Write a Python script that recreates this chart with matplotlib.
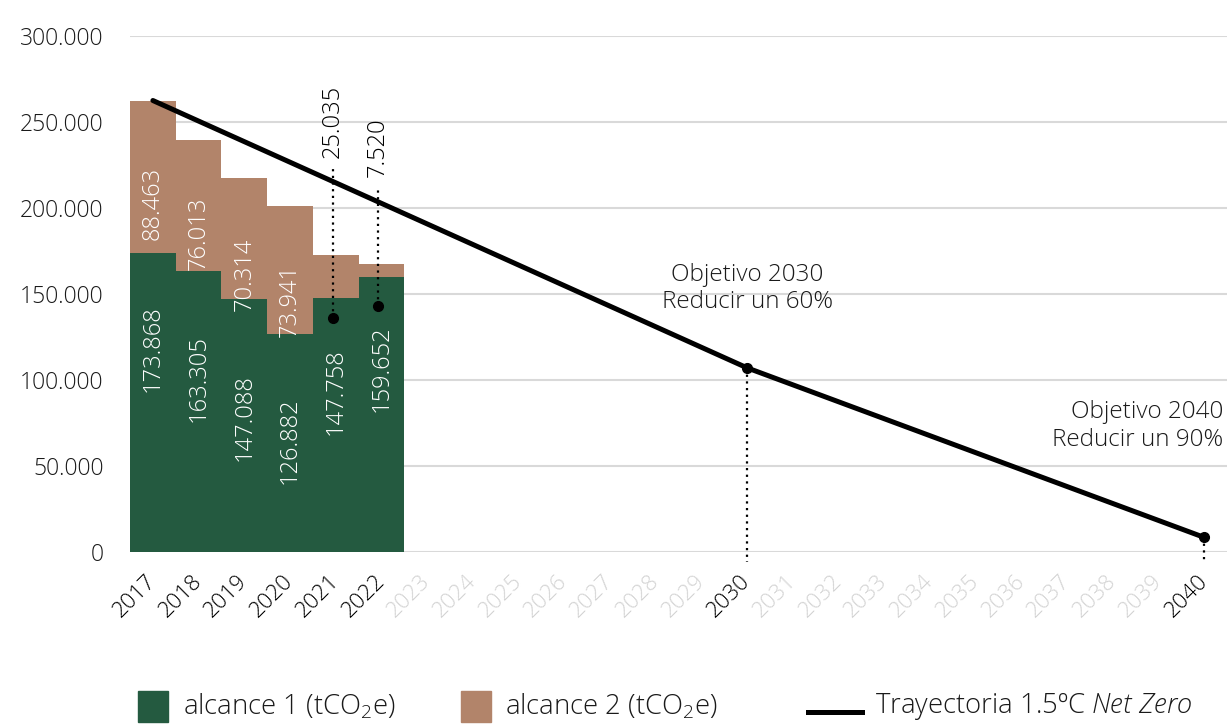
import matplotlib
matplotlib.use('Agg')
import matplotlib.pyplot as plt
from matplotlib.patches import Rectangle
from matplotlib.lines import Line2D

plt.rcParams['font.family'] = ['Open Sans', 'DejaVu Sans']
plt.rcParams['font.weight'] = 'light'
plt.rcParams['mathtext.fontset'] = 'custom'
plt.rcParams['mathtext.rm'] = 'Open Sans:light'
plt.rcParams['mathtext.it'] = 'Open Sans:italic:light'

# datos
years = ['2017', '2018', '2019', '2020', '2021', '2022', '2023', '2024',
         '2025', '2026', '2027', '2028', '2029', '2030', '2031', '2032',
         '2033', '2034', '2035', '2036', '2037', '2038', '2039', '2040']
bar_years = ['2017', '2018', '2019', '2020', '2021', '2022']
alcance1 = [173868, 163305, 147088, 126882, 147758, 159652]
alcance2 = [88463, 76013, 70314, 73941, 25035, 7520]
tray_years = ['2017', '2030', '2040']
tray_vals = [262331, 107000, 8500]
dark_years = ['2017', '2018', '2019', '2020', '2021', '2022', '2030', '2040']

GREEN = '#245a40'
BROWN = '#b2846a'
GRID = '#d9d9d9'
TXT = '#1a1a1a'

def fmt(v):
    return f'{v:,}'.replace(',', '.')

fig = plt.figure(figsize=(12.29, 7.25), dpi=100)
ax = fig.add_axes([0.1058, 0.2386, 0.8926, 0.7122])

xb = [years.index(y) for y in bar_years]
ax.bar(xb, alcance1, width=1.0, color=GREEN, linewidth=0)
ax.bar(xb, alcance2, width=1.0, bottom=alcance1, color=BROWN, linewidth=0)

# etiquetas dentro de las barras (posicion vertical del texto)
lab_y1 = [118000, 101000, 78400, 64500, 93000, 106300]
lab_y2 = [202800, 185400, 161500, 146400]
for i, x in enumerate(xb):
    ax.text(x, lab_y1[i], fmt(alcance1[i]), rotation=90, ha='center', va='center',
            color='white', fontsize=17)
for i in range(len(lab_y2)):
    ax.text(xb[i], lab_y2[i], fmt(alcance2[i]), rotation=90, ha='center', va='center',
            color='white', fontsize=17)

# etiquetas de alcance 2 fuera de la barra (2021, 2022)
dot_y = [136000, 143000]
line_top = [225000, 212000]
text_y = [229000, 218000]
for k, i in enumerate([4, 5]):
    x = xb[i] - 0.07
    ax.plot([x, x], [dot_y[k], line_top[k]], color='black', lw=1.6, ls=(0, (1, 2)))
    ax.plot(x, dot_y[k], 'o', color='black', ms=7)
    ax.text(x, text_y[k], fmt(alcance2[i]), rotation=90, ha='center', va='bottom',
            color='black', fontsize=17)

# trayectoria
xt = [years.index(y) for y in tray_years]
ax.plot(xt, tray_vals, color='black', lw=3.6, solid_capstyle='round', zorder=4)
ax.plot(xt[1:], tray_vals[1:], 'o', color='black', ms=7, zorder=5)
for x, v in zip(xt[1:], tray_vals[1:]):
    ax.plot([x, x], [v, -6000], color='black', lw=1.6, ls=(0, (1, 2)), clip_on=False)

ax.text(years.index('2030'), 153000, 'Objetivo 2030\nReducir un 60%', ha='center',
        va='center', fontsize=17.5, color=TXT, linespacing=1.2)
ax.text(23.41, 73300, 'Objetivo 2040\nReducir un 90%', ha='right',
        va='center', fontsize=17.5, color=TXT, linespacing=1.2)

# ejes
ax.set_xlim(-0.5, 23.5)
ax.set_ylim(0, 300000)
ax.set_yticks(range(0, 300001, 50000))
ax.set_yticklabels([fmt(v) for v in range(0, 300001, 50000)], fontsize=16.5, color=TXT)
ax.set_xticks(range(len(years)))
ax.set_xticklabels(years, rotation=45, ha='right', va='center', rotation_mode='anchor',
                   fontsize=16)
for lab in ax.get_xticklabels():
    lab.set_color('black' if lab.get_text() in dark_years else '#d3d3d3')
ax.tick_params(axis='y', length=0, pad=19)
ax.tick_params(axis='x', length=0, pad=19)
ax.yaxis.grid(True, color=GRID, lw=1.5)
ax.set_axisbelow(True)
for s in ax.spines.values():
    s.set_visible(False)

# leyenda
W, H = 1229, 725
def px(x, y):
    return x / W, 1 - y / H

fig.add_artist(Rectangle(px(138, 722), 30 / W, 31 / H, color=GREEN, transform=fig.transFigure))
fig.text(*px(183, 707), 'alcance 1 (tCO$_2$e)', fontsize=19.8, color=TXT, va='center')
fig.add_artist(Rectangle(px(461, 722), 30 / W, 31 / H, color=BROWN, transform=fig.transFigure))
fig.text(*px(505, 707), 'alcance 2 (tCO$_2$e)', fontsize=19.8, color=TXT, va='center')
fig.add_artist(Line2D([808 / W, 862 / W], [1 - 712 / H, 1 - 712 / H], color='black', lw=3.6,
                      transform=fig.transFigure))
fig.text(*px(875, 707), r'Trayectoria 1.5ºC $\it{Net\ Zero}$', fontsize=19.8, color=TXT, va='center')

fig.savefig('out.png', dpi=100)
